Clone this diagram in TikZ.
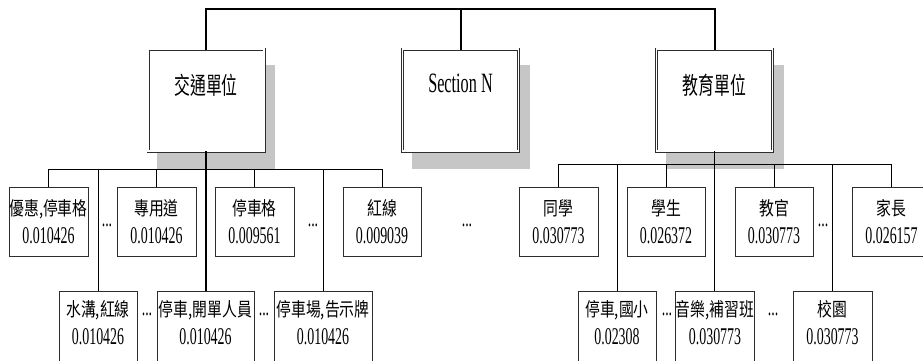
\documentclass[tikz,border=0pt]{standalone}
\usepackage{fontspec}
\setmainfont[FakeStretch=0.58]{Liberation Serif}
\newfontfamily\cjk[FakeStretch=0.78]{Noto Sans CJK TC}
\newfontfamily\cjkbig[FakeStretch=0.66]{Noto Sans CJK TC}
\newcommand\zh[1]{{\cjk\fontsize{19}{28}\selectfont #1}}
\definecolor{shadowgray}{RGB}{198,198,198}
\definecolor{edgecol}{RGB}{45,45,45}
\tikzset{
  unitbox/.style={draw=edgecol, line width=0.7pt, double=white, double distance=1.6pt, fill=white, minimum width=116pt, minimum height=102pt, inner sep=0pt},
  shadowbox/.style={fill=shadowgray, draw=none, minimum width=118pt, minimum height=104pt, inner sep=0pt},
  unittext/.style={inner sep=0pt},
  leaf/.style={draw=edgecol, line width=0.8pt, fill=white, minimum height=69pt, inner sep=0pt, align=center, font=\fontsize{24}{28}\selectfont, anchor=north},
  leaflow/.style={leaf, minimum height=73pt, text depth=10pt},
  dotsnode/.style={inner sep=0pt, font=\fontsize{24}{28}\selectfont},
  topline/.style={line width=2pt, line cap=rect},
  trunk/.style={line width=1.8pt},
  conn/.style={line width=1pt},
}
\begin{document}
\begin{tikzpicture}[x=1pt,y=-1pt]
\useasboundingbox (0,0) rectangle (923,360);
\clip (0,0) rectangle (923,360);
% shadows
\node[shadowbox] (jts) at (216,117) {};
\node[shadowbox] (sns) at (470.5,117) {};
\node[shadowbox] (jys) at (724.5,117) {};
% top connector
\coordinate (topL) at (206,9);
\coordinate (topM) at (460.5,9);
\coordinate (topR) at (714.5,9);
\path (206,100) coordinate (jtc) (460.5,100) coordinate (snc) (714.5,100) coordinate (jyc);
% level boxes
\node[leaf, minimum width=79pt] (a1) at (48.5,187) {\zh{優惠,停車格}\\0.010426};
\node[leaf, minimum width=79pt] (a2) at (156.5,187) {\zh{專用道}\\0.010426};
\node[leaf, minimum width=79pt] (a3) at (254.5,187) {\zh{停車格}\\0.009561};
\node[leaf, minimum width=78pt] (a4) at (382,187) {\zh{紅線}\\0.009039};
\node[leaflow, minimum width=78pt] (b1) at (98,291) {\zh{水溝,紅線}\\0.010426};
\node[leaflow, minimum width=97pt] (b2) at (205.5,291) {\zh{停車,開單人員}\\0.010426};
\node[leaflow, minimum width=98pt] (b3) at (323,291) {\zh{停車場,告示牌}\\0.010426};
\node[leaf, minimum width=79pt] (c1) at (558.5,187) {\zh{同學}\\0.030773};
\node[leaf, minimum width=78pt] (c2) at (666,187) {\zh{學生}\\0.026372};
\node[leaf, minimum width=78pt] (c3) at (774,187) {\zh{教官}\\0.030773};
\node[leaf, minimum width=79pt] (c4) at (891.5,187) {\zh{家長}\\0.026157};
\node[leaflow, minimum width=78pt] (d1) at (617,291) {\zh{停車,國小}\\0.02308};
\node[leaflow, minimum width=78pt] (d2) at (715,291) {\zh{音樂,補習班}\\0.030773};
\node[leaflow, minimum width=79pt] (d3) at (832.5,291) {\zh{校園}\\0.030773};
% buses
\coordinate (busL) at (206,169);
\coordinate (busR) at (714.5,164);
% top boxes
\node[unitbox] (jt) at (jtc) {};
\node[unitbox] (sn) at (snc) {};
\node[unitbox] (jy) at (jyc) {};
\node[unittext] (jtt) at (206,85) {\cjkbig\fontsize{24}{28}\selectfont 交通單位};
\node[unittext] (snt) at (460.5,83) {\fontsize{28}{32}\selectfont Section N};
\node[unittext] (jyt) at (714.5,85) {\cjkbig\fontsize{24}{28}\selectfont 教育單位};
% connectors
\draw[topline] (jt.north) -- (jt.north |- topL) -- (jy.north |- topR) -- (jy.north);
\draw[topline] (sn.north) -- (sn.north |- topM);
% left group
\draw[conn] (a1.north |- busL) -- (a4.north |- busL);
\draw[conn] (a1.north) -- (a1.north |- busL);
\draw[conn] (a2.north) -- (a2.north |- busL);
\draw[conn] (a3.north) -- (a3.north |- busL);
\draw[conn] (a4.north) -- (a4.north |- busL);
\draw[conn] (b1.north) -- (b1.north |- busL);
\draw[conn] (b3.north) -- (b3.north |- busL);
\draw[trunk] (jt.south) -- (jt.south |- b2.north);
% right group
\draw[conn] (c1.north |- busR) -- (c4.north |- busR);
\draw[conn] (c1.north) -- (c1.north |- busR);
\draw[conn] (c2.north) -- (c2.north |- busR);
\draw[conn] (c3.north) -- (c3.north |- busR);
\draw[conn] (c4.north) -- (c4.north |- busR);
\draw[conn] (d1.north) -- (d1.north |- busR);
\draw[conn] (d3.north) -- (d3.north |- busR);
\draw[trunk] (jy.south) -- (jy.south |- d2.north);
% dots
\node[dotsnode] (e1) at (107,225) {...};
\node[dotsnode] (e2) at (313,225) {...};
\node[dotsnode] (e3) at (467,225) {...};
\node[dotsnode] (e4) at (823,225) {...};
\node[dotsnode] (e5) at (147,314) {...};
\node[dotsnode] (e6) at (264,314) {...};
\node[dotsnode] (e7) at (667,314) {...};
\node[dotsnode] (e8) at (773,314) {...};
\end{tikzpicture}
\end{document}
